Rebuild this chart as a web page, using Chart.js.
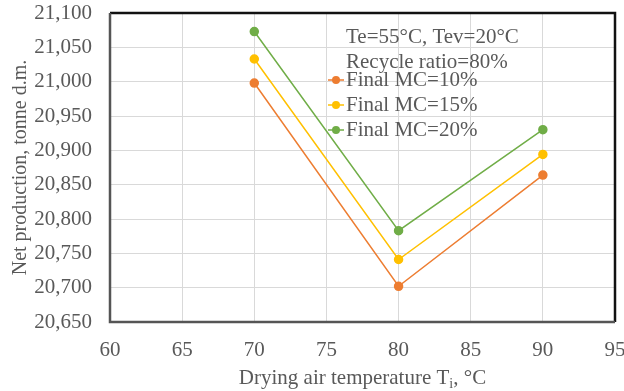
<!DOCTYPE html>
<html>
<head>
<meta charset="utf-8">
<script src="https://cdn.jsdelivr.net/npm/chart.js@4/dist/chart.umd.min.js"></script>
<style>
  html, body { margin: 0; padding: 0; background: #fff; }
  #wrap { width: 624px; height: 391px; }
</style>
</head>
<body>
<div id="wrap"><canvas id="chart" width="624" height="391"></canvas></div>
<script>
// drying air temperature, °C
const temps = [70, 80, 90];
const seriesNames = ['Final MC=10%', 'Final MC=15%', 'Final MC=20%'];
// net production, tonne d.m.
const mc10 = [20998, 20702, 20864];
const mc15 = [21033, 20741, 20894];
const mc20 = [21073, 20783, 20930];
const noteLines = ['Te=55°C, Tev=20°C', 'Recycle ratio=80%'];

const colors = ['#ED7D31', '#FFC000', '#70AD47'];
const textColor = '#595959';
const serif = '"Liberation Serif", "Times New Roman", serif';

function toPoints(vals) {
  return vals.map((v, i) => ({ x: temps[i], y: v }));
}

const datasets = [mc10, mc15, mc20].map((vals, i) => ({
  label: seriesNames[i],
  data: toPoints(vals),
  borderColor: colors[i],
  backgroundColor: colors[i],
  borderWidth: 1.5,
  pointRadius: 4,
  pointHoverRadius: 4,
  showLine: true,
  tension: 0
}));

// frame around the plot area: dark grey on the axis sides, black on top/right
const frame = {
  id: 'frame',
  afterDatasetsDraw(chart) {
    const { ctx, chartArea: a } = chart;
    ctx.save();
    ctx.lineWidth = 2.5;
    ctx.strokeStyle = '#111';
    ctx.beginPath();
    ctx.moveTo(a.left, a.top);
    ctx.lineTo(a.right, a.top);
    ctx.lineTo(a.right, a.bottom);
    ctx.stroke();
    ctx.strokeStyle = '#555';
    ctx.beginPath();
    ctx.moveTo(a.left, a.top);
    ctx.lineTo(a.left, a.bottom);
    ctx.lineTo(a.right, a.bottom);
    ctx.stroke();
    ctx.restore();
  }
};

// note text and series key inside the plot
const keyBox = {
  id: 'keyBox',
  afterDraw(chart) {
    const { ctx } = chart;
    const tx = 346;
    ctx.save();
    ctx.font = '21px ' + serif;
    ctx.fillStyle = textColor;
    ctx.textBaseline = 'middle';
    ctx.textAlign = 'left';
    noteLines.forEach((t, i) => ctx.fillText(t, tx, 37 + i * 25));
    chart.data.datasets.forEach((ds, i) => {
      const y = 80 + i * 25;
      ctx.strokeStyle = ds.borderColor;
      ctx.lineWidth = 1.5;
      ctx.beginPath();
      ctx.moveTo(328, y);
      ctx.lineTo(344, y);
      ctx.stroke();
      ctx.fillStyle = ds.backgroundColor;
      ctx.beginPath();
      ctx.arc(336, y, 4, 0, Math.PI * 2);
      ctx.fill();
      ctx.fillStyle = textColor;
      ctx.fillText(ds.label, tx, y);
    });
    ctx.restore();
  }
};

// x axis title with subscript i
const xTitle = {
  id: 'xTitle',
  afterDraw(chart) {
    const { ctx } = chart;
    const a = chart.chartArea;
    const main = 'Drying air temperature T';
    const sub = 'i';
    const rest = ', °C';
    ctx.save();
    ctx.fillStyle = textColor;
    ctx.textBaseline = 'alphabetic';
    ctx.font = '21px ' + serif;
    const w1 = ctx.measureText(main).width;
    const w3 = ctx.measureText(rest).width;
    ctx.font = '14px ' + serif;
    const w2 = ctx.measureText(sub).width;
    const total = w1 + w2 + w3;
    let x = (a.left + a.right) / 2 - total / 2;
    const base = 384;
    ctx.font = '21px ' + serif;
    ctx.fillText(main, x, base);
    x += w1;
    ctx.font = '14px ' + serif;
    ctx.fillText(sub, x, base + 4);
    x += w2;
    ctx.font = '21px ' + serif;
    ctx.fillText(rest, x, base);
    ctx.restore();
  }
};

new Chart(document.getElementById('chart').getContext('2d'), {
  type: 'scatter',
  data: { datasets },
  options: {
    responsive: false,
    animation: false,
    devicePixelRatio: 1,
    layout: { padding: { top: 13, right: 9, left: 0, bottom: 0 } },
    plugins: {
      legend: { display: false },
      tooltip: { enabled: false }
    },
    scales: {
      x: {
        type: 'linear',
        min: 60,
        max: 95,
        ticks: {
          stepSize: 5,
          padding: 16,
          color: textColor,
          font: { family: serif, size: 21 }
        },
        grid: { color: '#d9d9d9', drawTicks: false },
        border: { display: false },
        afterFit(scale) {
          scale.height = 69;
          scale.paddingLeft = 0;
          scale.paddingRight = 0;
        }
      },
      y: {
        min: 20650,
        max: 21100,
        ticks: {
          stepSize: 50,
          padding: 18,
          color: textColor,
          font: { family: serif, size: 21 },
          callback: v => v.toLocaleString('en-US')
        },
        grid: { color: '#d9d9d9', drawTicks: false },
        border: { display: false },
        title: {
          display: true,
          text: 'Net production, tonne d.m.',
          color: textColor,
          font: { family: serif, size: 20 },
          padding: { top: 9, bottom: 0 }
        },
        afterFit(scale) {
          scale.width = 110;
          scale.paddingTop = 0;
          scale.paddingBottom = 0;
        }
      }
    }
  },
  plugins: [frame, keyBox, xTitle]
});
</script>
</body>
</html>
